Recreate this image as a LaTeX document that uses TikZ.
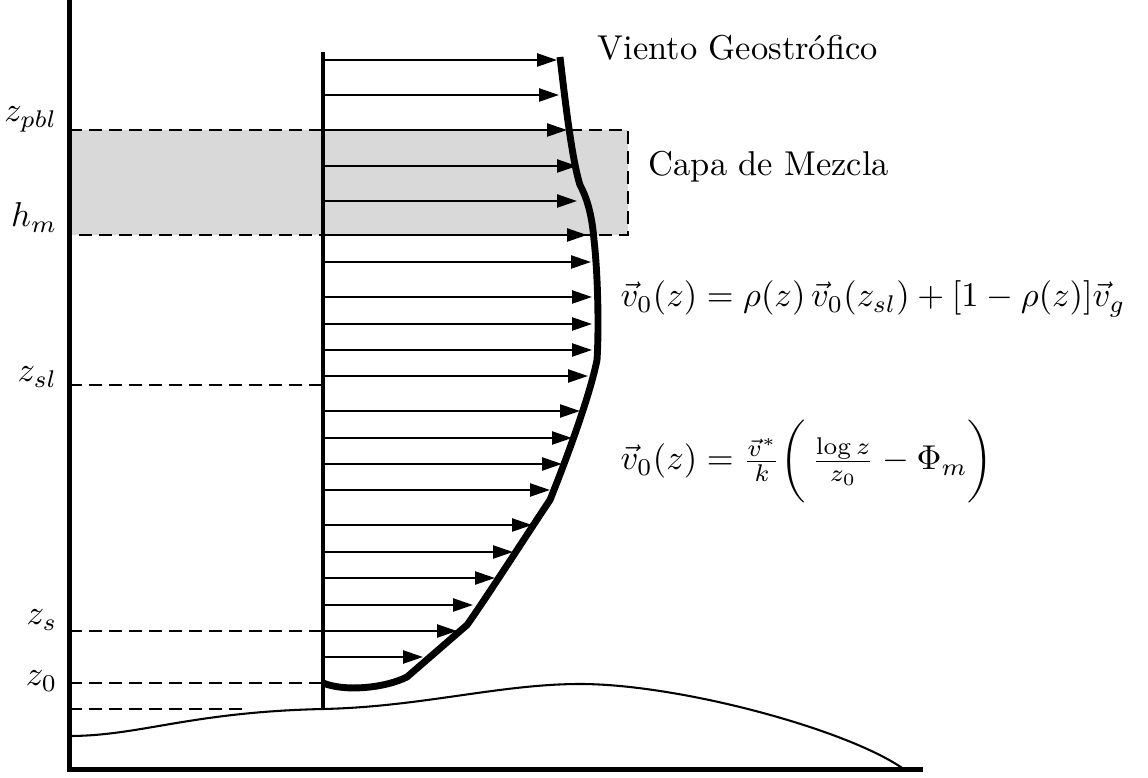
\documentclass[tikz,border=0pt]{standalone}
\usetikzlibrary{arrows.meta}
\begin{document}
\begin{tikzpicture}[x=0.29pt,y=-0.29pt,
  axisline/.style={line width=1.45pt},
  mast/.style={line width=1.2pt},
  profile/.style={line width=2pt, line join=round},
  windarrow/.style={line width=0.6pt, -{Triangle[length=5.8pt,width=3.8pt]}},
  dashline/.style={line width=0.75pt, dash pattern=on 3.8pt off 2pt},
  ground/.style={line width=0.6pt},
  lbl/.style={inner sep=0pt, anchor=base east},
  txt/.style={inner sep=0pt, anchor=base west}]
\useasboundingbox (0,0) rectangle (1148,778);
% mixing layer
\fill[black!15] (69,130) rectangle (628,235);
\draw[dashline] (69,130) -- (628,130) -- (628,235) -- (69,235);
% level lines
\draw[dashline] (69,385) -- (323,385);
\draw[dashline] (69,631) -- (323,631);
\draw[dashline] (69,683) -- (323,683);
\draw[dashline] (69,709) -- (245,709);
% mast
\draw[mast] (323,52) -- (323,710);
% wind arrows
\foreach \y/\x in {60/557, 95/559, 130/567, 166/577, 201/577, 235/587, 262/591, 297/592, 324/592, 350/592, 376/588, 411/580, 438/572, 464/562, 490/550, 525/532, 552/513, 578/495, 605/473, 631/457, 657/423}
  \draw[windarrow] (323,\y) -- (\x,\y);
% profile
\draw[profile] (560,57) .. controls (565,100) and (572,160) .. (580,185)
  .. controls (587,198) and (592,215) .. (594,240)
  .. controls (598,275) and (599,330) .. (597,360)
  .. controls (590,395) and (568,455) .. (550,500)
  .. controls (535,522) and (485,600) .. (467,625)
  -- (407,677)
  .. controls (385,688) and (345,692) .. (323,683);
% ground
\draw[ground] (69,736) .. controls (140,736) and (190,712) .. (323,709)
  .. controls (420,707) and (500,684) .. (580,684)
  .. controls (680,684) and (850,730) .. (905,770);
% axes
\draw[axisline] (69,0) -- (69,770) -- (923,770);
% labels
\node[lbl] (zpbl) at (58,122) {$z_{pbl}$};
\node[lbl] (hm) at (58,227) {$h_m$};
\node[lbl] (zsl) at (58,382) {$z_{sl}$};
\node[lbl] (zs) at (58,625) {$z_s$};
\node[lbl] (zz) at (58,686) {$z_0$};
\node[txt] (vg) at (597,60) {Viento Geostr\'ofico};
\node[txt] (cm) at (648,176) {Capa de Mezcla};
\node[txt] (eq1) at (620,307) {$\vec{v}_0(z) = \rho(z)\,\vec{v}_0(z_{sl}) + [1-\rho(z)]\vec{v}_g$};
\node[txt] (eq2) at (620,470) {$\vec{v}_0(z) = \frac{\vec{v}^*}{k}\biggl(\,\frac{\log z}{z_0} - \Phi_m\biggr)$};
\end{tikzpicture}
\end{document}
